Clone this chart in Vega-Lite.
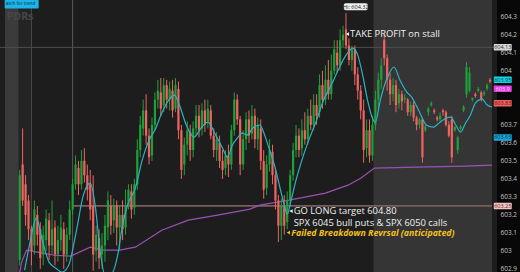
{
  "$schema": "https://vega.github.io/schema/vega-lite/v6.json",
  "width": 497,
  "height": 272,
  "autosize": {"type": "none"},
  "padding": {"left": 0, "top": 0, "right": 23, "bottom": 0},
  "background": "#080808",
  "config": {"view": {"fill": "#1d1d1d", "stroke": null}, "font": "Open Sans", "axis": {"labelOverlap": false, "labelBound": false, "labelFlush": false, "ticks": false, "domain": false, "grid": false}},
  "resolve": {"scale": {"color": "independent"}, "axis": {"y": "independent"}},
  "datasets": {
    "regions": [
      {"t1": -5, "t2": -0.33, "kind": "pre"},
      {"t1": -0.33, "t2": 4, "kind": "open"},
      {"t1": 120.33, "t2": 160.67, "kind": "post"}
    ],
    "vlines": [{"t": 4, "kind": "a"}, {"t": 18, "kind": "b"}],
    "lastline": [{"p": 604.13}],
    "level": [{"t1": 18, "t2": 160.67, "p": 603.25}],
    "candles": [
{"t":0,"o":602.95,"h":603.45,"l":602.92,"c":603.42},
{"t":1,"o":603.48,"h":603.68,"l":603.25,"c":603.28},
{"t":2,"o":603.37,"h":603.42,"l":603.14,"c":603.20},
{"t":3,"o":603.28,"h":603.31,"l":603.06,"c":603.12},
{"t":4,"o":603.12,"h":603.14,"l":602.92,"c":603.00},
{"t":5,"o":603.03,"h":603.28,"l":602.98,"c":603.23},
{"t":6,"o":603.20,"h":603.25,"l":603.03,"c":603.09},
{"t":7,"o":603.12,"h":603.16,"l":602.90,"c":602.96},
{"t":8,"o":602.98,"h":603.14,"l":602.92,"c":603.09},
{"t":9,"o":603.06,"h":603.23,"l":603.00,"c":603.18},
{"t":10,"o":603.17,"h":603.21,"l":602.95,"c":603.03},
{"t":11,"o":603.03,"h":603.28,"l":602.98,"c":603.12},
{"t":12,"o":603.13,"h":603.17,"l":602.92,"c":602.98},
{"t":13,"o":602.98,"h":603.14,"l":602.94,"c":603.06},
{"t":14,"o":603.06,"h":603.20,"l":603.00,"c":603.13},
{"t":15,"o":603.12,"h":603.16,"l":602.90,"c":602.98},
{"t":16,"o":602.98,"h":603.13,"l":602.94,"c":603.09},
{"t":17,"o":603.09,"h":603.28,"l":603.06,"c":603.23},
{"t":18,"o":603.23,"h":603.40,"l":603.20,"c":603.37},
{"t":19,"o":603.37,"h":603.53,"l":603.34,"c":603.48},
{"t":20,"o":603.46,"h":603.50,"l":603.31,"c":603.37},
{"t":21,"o":603.37,"h":603.56,"l":603.34,"c":603.50},
{"t":22,"o":603.50,"h":603.57,"l":603.38,"c":603.42},
{"t":23,"o":603.42,"h":603.48,"l":603.28,"c":603.34},
{"t":24,"o":603.37,"h":603.45,"l":603.17,"c":603.23},
{"t":25,"o":603.25,"h":603.42,"l":602.89,"c":602.98},
{"t":26,"o":603.00,"h":603.14,"l":602.94,"c":603.09},
{"t":27,"o":603.07,"h":603.12,"l":602.90,"c":602.96},
{"t":28,"o":602.98,"h":603.10,"l":602.90,"c":603.03},
{"t":29,"o":603.03,"h":603.20,"l":602.94,"c":603.14},
{"t":30,"o":603.13,"h":603.33,"l":603.06,"c":603.28},
{"t":31,"o":603.25,"h":603.31,"l":603.09,"c":603.14},
{"t":32,"o":603.17,"h":603.29,"l":603.10,"c":603.25},
{"t":33,"o":603.25,"h":603.28,"l":603.03,"c":603.13},
{"t":34,"o":603.13,"h":603.25,"l":603.00,"c":603.20},
{"t":35,"o":603.20,"h":603.28,"l":603.06,"c":603.12},
{"t":36,"o":603.13,"h":603.34,"l":603.09,"c":603.25},
{"t":37,"o":603.25,"h":603.37,"l":603.23,"c":603.34},
{"t":38,"o":603.33,"h":603.37,"l":603.18,"c":603.23},
{"t":39,"o":603.24,"h":603.40,"l":603.20,"c":603.37},
{"t":40,"o":603.37,"h":603.62,"l":603.34,"c":603.56},
{"t":41,"o":603.56,"h":603.75,"l":603.52,"c":603.70},
{"t":42,"o":603.68,"h":603.84,"l":603.64,"c":603.78},
{"t":43,"o":603.78,"h":603.87,"l":603.59,"c":603.64},
{"t":44,"o":603.64,"h":603.68,"l":603.48,"c":603.52},
{"t":45,"o":603.53,"h":603.74,"l":603.50,"c":603.70},
{"t":46,"o":603.70,"h":603.88,"l":603.67,"c":603.84},
{"t":47,"o":603.84,"h":603.95,"l":603.79,"c":603.89},
{"t":48,"o":603.88,"h":603.96,"l":603.75,"c":603.79},
{"t":49,"o":603.81,"h":603.96,"l":603.77,"c":603.92},
{"t":50,"o":603.92,"h":603.95,"l":603.79,"c":603.84},
{"t":51,"o":603.84,"h":603.94,"l":603.78,"c":603.90},
{"t":52,"o":603.89,"h":603.95,"l":603.74,"c":603.78},
{"t":53,"o":603.79,"h":603.96,"l":603.77,"c":603.92},
{"t":54,"o":603.90,"h":603.94,"l":603.62,"c":603.67},
{"t":55,"o":603.67,"h":603.70,"l":603.40,"c":603.45},
{"t":56,"o":603.48,"h":603.63,"l":603.42,"c":603.59},
{"t":57,"o":603.59,"h":603.72,"l":603.53,"c":603.67},
{"t":58,"o":603.66,"h":603.70,"l":603.50,"c":603.56},
{"t":59,"o":603.56,"h":603.72,"l":603.52,"c":603.68},
{"t":60,"o":603.68,"h":603.81,"l":603.64,"c":603.75},
{"t":61,"o":603.75,"h":603.81,"l":603.63,"c":603.67},
{"t":62,"o":603.68,"h":603.82,"l":603.64,"c":603.78},
{"t":63,"o":603.78,"h":603.84,"l":603.66,"c":603.70},
{"t":64,"o":603.72,"h":603.84,"l":603.68,"c":603.79},
{"t":65,"o":603.78,"h":603.81,"l":603.62,"c":603.64},
{"t":66,"o":603.64,"h":603.68,"l":603.52,"c":603.56},
{"t":67,"o":603.56,"h":603.66,"l":603.50,"c":603.62},
{"t":68,"o":603.60,"h":603.64,"l":603.46,"c":603.50},
{"t":69,"o":603.50,"h":603.56,"l":603.40,"c":603.45},
{"t":70,"o":603.46,"h":603.56,"l":603.42,"c":603.53},
{"t":71,"o":603.53,"h":603.59,"l":603.41,"c":603.48},
{"t":72,"o":603.48,"h":603.70,"l":603.45,"c":603.67},
{"t":73,"o":603.67,"h":603.88,"l":603.64,"c":603.84},
{"t":74,"o":603.84,"h":603.87,"l":603.70,"c":603.73},
{"t":75,"o":603.73,"h":603.75,"l":603.42,"c":603.48},
{"t":76,"o":603.48,"h":603.67,"l":603.45,"c":603.62},
{"t":77,"o":603.62,"h":603.77,"l":603.56,"c":603.73},
{"t":78,"o":603.73,"h":603.78,"l":603.60,"c":603.64},
{"t":79,"o":603.65,"h":603.81,"l":603.62,"c":603.75},
{"t":80,"o":603.75,"h":603.79,"l":603.57,"c":603.62},
{"t":81,"o":603.62,"h":603.74,"l":603.56,"c":603.70},
{"t":82,"o":603.68,"h":603.73,"l":603.45,"c":603.50},
{"t":83,"o":603.50,"h":603.56,"l":603.29,"c":603.34},
{"t":84,"o":603.35,"h":603.53,"l":603.31,"c":603.48},
{"t":85,"o":603.48,"h":603.62,"l":603.44,"c":603.56},
{"t":86,"o":603.55,"h":603.59,"l":603.37,"c":603.42},
{"t":87,"o":603.42,"h":603.46,"l":603.23,"c":603.28},
{"t":88,"o":603.28,"h":603.31,"l":603.05,"c":603.14},
{"t":89,"o":603.14,"h":603.29,"l":603.06,"c":603.25},
{"t":90,"o":603.25,"h":603.31,"l":603.09,"c":603.14},
{"t":91,"o":603.16,"h":603.33,"l":603.12,"c":603.28},
{"t":92,"o":603.28,"h":603.45,"l":603.25,"c":603.42},
{"t":93,"o":603.42,"h":603.60,"l":603.39,"c":603.56},
{"t":94,"o":603.56,"h":603.70,"l":603.52,"c":603.64},
{"t":95,"o":603.64,"h":603.68,"l":603.52,"c":603.56},
{"t":96,"o":603.57,"h":603.73,"l":603.53,"c":603.67},
{"t":97,"o":603.67,"h":603.77,"l":603.59,"c":603.62},
{"t":98,"o":603.62,"h":603.79,"l":603.59,"c":603.75},
{"t":99,"o":603.75,"h":603.84,"l":603.67,"c":603.70},
{"t":100,"o":603.70,"h":603.87,"l":603.67,"c":603.81},
{"t":101,"o":603.81,"h":603.87,"l":603.70,"c":603.75},
{"t":102,"o":603.77,"h":603.98,"l":603.74,"c":603.92},
{"t":103,"o":603.92,"h":604.00,"l":603.79,"c":603.84},
{"t":104,"o":603.84,"h":604.03,"l":603.81,"c":603.95},
{"t":105,"o":603.95,"h":604.06,"l":603.84,"c":603.87},
{"t":106,"o":603.87,"h":604.09,"l":603.84,"c":604.00},
{"t":107,"o":604.00,"h":604.17,"l":603.98,"c":604.12},
{"t":108,"o":604.10,"h":604.17,"l":603.99,"c":604.03},
{"t":109,"o":604.03,"h":604.23,"l":604.00,"c":604.17},
{"t":110,"o":604.17,"h":604.25,"l":604.13,"c":604.20},
{"t":111,"o":604.23,"h":604.32,"l":604.12,"c":604.14},
{"t":112,"o":604.14,"h":604.18,"l":604.03,"c":604.06},
{"t":113,"o":604.06,"h":604.14,"l":604.00,"c":604.12},
{"t":114,"o":604.12,"h":604.14,"l":603.92,"c":603.98},
{"t":115,"o":603.98,"h":604.02,"l":603.84,"c":603.89},
{"t":116,"o":603.89,"h":603.92,"l":603.73,"c":603.78},
{"t":117,"o":603.78,"h":603.84,"l":603.49,"c":603.56},
{"t":118,"o":603.57,"h":603.73,"l":603.52,"c":603.67},
{"t":119,"o":603.67,"h":603.73,"l":603.49,"c":603.53},
{"t":120,"o":603.53,"h":603.75,"l":603.50,"c":603.70},
{"t":121,"o":603.70,"h":603.89,"l":603.67,"c":603.84},
{"t":122,"o":603.84,"h":603.99,"l":603.79,"c":603.95},
{"t":123,"o":603.95,"h":604.07,"l":603.90,"c":604.03},
{"t":124,"o":604.17,"h":604.20,"l":604.03,"c":604.07},
{"t":125,"o":604.07,"h":604.09,"l":603.89,"c":603.95},
{"t":126,"o":603.95,"h":603.99,"l":603.81,"c":603.87},
{"t":127,"o":603.87,"h":603.96,"l":603.83,"c":603.92},
{"t":128,"o":603.92,"h":603.95,"l":603.77,"c":603.81},
{"t":129,"o":603.82,"h":603.90,"l":603.79,"c":603.87},
{"t":130,"o":603.87,"h":603.89,"l":603.78,"c":603.83},
{"t":131,"o":603.84,"h":603.87,"l":603.82,"c":603.85},
{"t":132,"o":603.84,"h":603.85,"l":603.75,"c":603.77},
{"t":133,"o":603.77,"h":603.83,"l":603.75,"c":603.81},
{"t":134,"o":603.81,"h":603.83,"l":603.72,"c":603.74},
{"t":135,"o":603.74,"h":603.75,"l":603.67,"c":603.70},
{"t":136,"o":603.70,"h":603.74,"l":603.68,"c":603.73},
{"t":137,"o":603.73,"h":603.74,"l":603.49,"c":603.52},
{"t":138,"o":603.67,"h":603.70,"l":603.66,"c":603.69},
{"t":139,"o":603.77,"h":603.80,"l":603.75,"c":603.79},
{"t":140,"o":603.81,"h":603.83,"l":603.80,"c":603.82},
{"t":141,"o":603.78,"h":603.79,"l":603.76,"c":603.77},
{"t":142,"o":603.74,"h":603.75,"l":603.72,"c":603.73},
{"t":143,"o":603.73,"h":603.77,"l":603.72,"c":603.75},
{"t":144,"o":603.78,"h":603.79,"l":603.75,"c":603.77},
{"t":145,"o":603.77,"h":603.78,"l":603.69,"c":603.70},
{"t":146,"o":603.70,"h":603.72,"l":603.63,"c":603.64},
{"t":147,"o":603.73,"h":603.75,"l":603.49,"c":603.52},
{"t":148,"o":603.67,"h":603.69,"l":603.66,"c":603.69},
{"t":149,"o":603.56,"h":603.64,"l":603.54,"c":603.63},
{"t":150,"o":603.68,"h":603.70,"l":603.67,"c":603.69},
{"t":151,"o":603.78,"h":603.81,"l":603.77,"c":603.80},
{"t":152,"o":603.87,"h":604.05,"l":603.85,"c":604.02},
{"t":153,"o":603.89,"h":604.02,"l":603.88,"c":603.99},
{"t":154,"o":603.84,"h":603.85,"l":603.83,"c":603.85},
{"t":155,"o":603.87,"h":603.88,"l":603.85,"c":603.86},
{"t":156,"o":603.89,"h":603.91,"l":603.88,"c":603.90},
{"t":157,"o":603.88,"h":603.89,"l":603.83,"c":603.84},
{"t":158,"o":603.87,"h":603.89,"l":603.86,"c":603.88},
{"t":159,"o":603.90,"h":603.93,"l":603.89,"c":603.92},
{"t":160,"o":603.95,"h":603.96,"l":603.93,"c":603.94}
    ],
    "cyan": [
{"t":1.67,"p":602.893},{"t":3.33,"p":603.032},{"t":5.67,"p":603.182},{"t":7.67,"p":603.06},{"t":10,"p":602.938},
{"t":12.33,"p":602.904},{"t":14.33,"p":602.882},{"t":16.67,"p":602.921},{"t":19,"p":603.087},{"t":21.67,"p":603.31},
{"t":24,"p":603.376},{"t":25.67,"p":603.254},{"t":27.33,"p":603.004},{"t":29.33,"p":602.849},{"t":31.67,"p":602.882},
{"t":33.33,"p":602.976},{"t":35,"p":603.143},{"t":36.67,"p":603.254},{"t":39.33,"p":603.349},{"t":41.67,"p":603.504},
{"t":44,"p":603.615},{"t":46,"p":603.671},{"t":48.33,"p":603.765},{"t":50.67,"p":603.837},{"t":52.67,"p":603.865},
{"t":54.33,"p":603.81},{"t":56.67,"p":603.699},{"t":59.33,"p":603.632},{"t":61.67,"p":603.682},{"t":64,"p":603.715},
{"t":66.67,"p":603.643},{"t":69,"p":603.571},{"t":70.67,"p":603.521},{"t":72.33,"p":603.587},{"t":74,"p":603.626},
{"t":75.67,"p":603.654},{"t":77.33,"p":603.643},{"t":79.33,"p":603.682},{"t":81.67,"p":603.699},{"t":83.33,"p":603.643},
{"t":85,"p":603.56},{"t":86.67,"p":603.476},{"t":88.33,"p":603.365},{"t":90,"p":603.254},{"t":91,"p":603.204},
{"t":92.33,"p":603.282},{"t":94,"p":603.393},{"t":96,"p":603.504},{"t":98.33,"p":603.615},{"t":101,"p":603.726},
{"t":103.33,"p":603.837},{"t":106,"p":603.921},{"t":108.33,"p":604.004},{"t":111,"p":604.087},{"t":113.33,"p":604.126},
{"t":115,"p":604.087},{"t":116.67,"p":603.976},{"t":118.33,"p":603.837},{"t":120,"p":603.737},{"t":121,"p":603.715},
{"t":122.67,"p":603.837},{"t":125,"p":603.96},{"t":127.33,"p":604.021},{"t":129.33,"p":603.949},{"t":131.67,"p":603.882},
{"t":133.33,"p":603.854},{"t":135.67,"p":603.782},{"t":138.33,"p":603.699},{"t":140.67,"p":603.687},{"t":142.67,"p":603.71},
{"t":145,"p":603.737},{"t":146.67,"p":603.743},{"t":148.33,"p":603.699},{"t":150,"p":603.66},{"t":151.67,"p":603.71},
{"t":153.33,"p":603.754},{"t":155,"p":603.821},{"t":157.33,"p":603.843},{"t":159,"p":603.81},{"t":160.67,"p":603.799}
    ],
    "purple": [
{"t":0,"p":602.882},{"t":0.67,"p":602.938},{"t":2.33,"p":603.004},{"t":6,"p":602.993},{"t":11.67,"p":602.976},
{"t":17.33,"p":602.971},{"t":24,"p":603.021},{"t":28.33,"p":603.004},{"t":34,"p":603.004},{"t":39.33,"p":603.021},
{"t":48.33,"p":603.115},{"t":57.33,"p":603.171},{"t":67.33,"p":603.199},{"t":78.33,"p":603.232},{"t":81.67,"p":603.254},
{"t":91.67,"p":603.282},{"t":104,"p":603.321},{"t":111.67,"p":603.365},{"t":116,"p":603.404},{"t":120.67,"p":603.46},
{"t":135,"p":603.465},{"t":151.67,"p":603.471},{"t":160.67,"p":603.476}
    ],
    "notes": [
      {"t": 112.4, "p": 604.204, "label": "TAKE PROFIT on stall"},
      {"t": 93.2, "p": 603.221, "label": "GO LONG target 604.80"},
      {"t": 93.2, "p": 603.155, "label": "SPX 6045 bull puts & SPX 6050 calls"}
    ],
    "failed": [{"t": 92.4, "p": 603.102, "label": "Failed Breakdown Revrsal (anticipated)"}],
    "tris": [
      {"t": 111.5, "p": 604.204, "kind": "white"},
      {"t": 92.3, "p": 603.221, "kind": "white"},
      {"t": 91.4, "p": 603.102, "kind": "yellow"}
    ],
    "boxes": [
      {"t": 164.33, "p": 604.13, "label": "604.13", "kind": "last"},
      {"t": 164.33, "p": 603.95, "label": "603.95", "kind": "c1"},
      {"t": 164.33, "p": 603.9, "label": "603.9", "kind": "m"},
      {"t": 164.33, "p": 603.82, "label": "603.83", "kind": "r"},
      {"t": 164.33, "p": 603.63, "label": "603.63", "kind": "c2"},
      {"t": 164.33, "p": 603.25, "label": "603.25", "kind": "lvl"}
    ],
    "hibox": [{"t": 114.33, "p": 604.355, "label": "Hi: 604.32"}],
    "watch": [{"t": 0.67, "p": 604.37, "label": "atch for trend", "tl": -4.75}],
    "wm": [{"t": -4.4, "p": 604.296, "label": "PDRs"}]
  },
  "layer": [
    {
      "data": {"name": "regions"},
      "mark": {"type": "rect"},
      "encoding": {
        "x": {"field": "t1", "type": "quantitative", "scale": {"domain": [-5, 160.667], "nice": false, "zero": false}, "axis": null},
        "x2": {"field": "t2"},
        "color": {"field": "kind", "type": "nominal", "scale": {"domain": ["pre", "open", "post"], "range": ["#3b3b3b", "#242424", "#353535"]}, "legend": null}
      }
    },
    {
      "data": {"name": "vlines"},
      "mark": {"type": "rule", "strokeWidth": 1},
      "encoding": {
        "x": {"field": "t", "type": "quantitative", "scale": {"domain": [-5, 160.667], "nice": false, "zero": false}, "axis": null},
        "color": {"field": "kind", "type": "nominal", "scale": {"domain": ["a", "b"], "range": ["#484848", "#5a5a5a"]}, "legend": null}
      }
    },
    {
      "data": {"name": "lastline"},
      "mark": {"type": "rule", "color": "#4e4e4e", "strokeWidth": 1},
      "encoding": {
        "y": {"field": "p", "type": "quantitative", "scale": {"domain": [602.883, 604.393], "nice": false, "zero": false}, "axis": null}
      }
    },
    {
      "data": {"name": "level"},
      "mark": {"type": "rule", "color": "#7a5e5e", "strokeWidth": 1.6},
      "encoding": {
        "x": {"field": "t1", "type": "quantitative", "scale": {"domain": [-5, 160.667], "nice": false, "zero": false}, "axis": null},
        "x2": {"field": "t2"},
        "y": {"field": "p", "type": "quantitative", "scale": {"domain": [602.883, 604.393], "nice": false, "zero": false}, "axis": null}
      }
    },
    {
      "data": {"name": "purple"},
      "mark": {"type": "line", "color": "#9c50b4", "strokeWidth": 1.2, "clip": true},
      "encoding": {
        "x": {"field": "t", "type": "quantitative", "scale": {"domain": [-5, 160.667], "nice": false, "zero": false}, "axis": null},
        "y": {"field": "p", "type": "quantitative", "scale": {"domain": [602.883, 604.393], "nice": false, "zero": false}, "axis": null}
      }
    },
    {
      "data": {"name": "candles"},
      "mark": {"type": "rule", "strokeWidth": 1, "clip": true},
      "encoding": {
        "x": {"field": "t", "type": "quantitative", "scale": {"domain": [-5, 160.667], "nice": false, "zero": false}, "axis": null},
        "y": {"field": "l", "type": "quantitative", "scale": {"domain": [602.883, 604.393], "nice": false, "zero": false}, "title": null,
          "axis": {"orient": "right", "title": null, "values": [602.9, 603, 603.1, 603.2, 603.3, 603.4, 603.5, 603.6, 603.7, 604, 604.1, 604.2, 604.3], "format": ".1~f", "labelFontSize": 6.5, "labelColor": "#c4c4c4", "labelFont": "Open Sans", "ticks": false, "domain": false, "grid": false, "labelPadding": 3, "labelOverlap": false, "labelBound": false, "labelFlush": false}},
        "y2": {"field": "h"},
        "color": {"condition": {"test": "datum.c >= datum.o", "value": "#1fa03a"}, "value": "#ee6461"}
      }
    },
    {
      "data": {"name": "candles"},
      "mark": {"type": "bar", "size": 2.2, "clip": true},
      "encoding": {
        "x": {"field": "t", "type": "quantitative", "scale": {"domain": [-5, 160.667], "nice": false, "zero": false}, "axis": null},
        "y": {"field": "o", "type": "quantitative", "scale": {"domain": [602.883, 604.393], "nice": false, "zero": false}, "axis": null},
        "y2": {"field": "c"},
        "color": {"condition": {"test": "datum.c >= datum.o", "value": "#1fa03a"}, "value": "#ee6461"}
      }
    },
    {
      "data": {"name": "cyan"},
      "mark": {"type": "line", "color": "#2bb4c4", "strokeWidth": 1.2, "clip": true, "interpolate": "monotone"},
      "encoding": {
        "x": {"field": "t", "type": "quantitative", "scale": {"domain": [-5, 160.667], "nice": false, "zero": false}, "axis": null},
        "y": {"field": "p", "type": "quantitative", "scale": {"domain": [602.883, 604.393], "nice": false, "zero": false}, "axis": null}
      }
    },
    {
      "data": {"name": "tris"},
      "mark": {"type": "point", "shape": "triangle-left", "filled": true, "size": 14, "opacity": 1},
      "encoding": {
        "x": {"field": "t", "type": "quantitative", "scale": {"domain": [-5, 160.667], "nice": false, "zero": false}, "axis": null},
        "y": {"field": "p", "type": "quantitative", "scale": {"domain": [602.883, 604.393], "nice": false, "zero": false}, "axis": null},
        "color": {"field": "kind", "type": "nominal", "scale": {"domain": ["white", "yellow"], "range": ["#f2f2f2", "#f3c21a"]}, "legend": null}
      }
    },
    {
      "data": {"name": "notes"},
      "mark": {"type": "text", "align": "left", "baseline": "middle", "fontSize": 9.4, "font": "Open Sans", "color": "#f0f0f0"},
      "encoding": {
        "x": {"field": "t", "type": "quantitative", "scale": {"domain": [-5, 160.667], "nice": false, "zero": false}, "axis": null},
        "y": {"field": "p", "type": "quantitative", "scale": {"domain": [602.883, 604.393], "nice": false, "zero": false}, "axis": null},
        "text": {"field": "label"}
      }
    },
    {
      "data": {"name": "failed"},
      "mark": {"type": "text", "align": "left", "baseline": "middle", "fontSize": 8.8, "font": "Open Sans", "fontWeight": "bold", "fontStyle": "italic", "color": "#f3c21a"},
      "encoding": {
        "x": {"field": "t", "type": "quantitative", "scale": {"domain": [-5, 160.667], "nice": false, "zero": false}, "axis": null},
        "y": {"field": "p", "type": "quantitative", "scale": {"domain": [602.883, 604.393], "nice": false, "zero": false}, "axis": null},
        "text": {"field": "label"}
      }
    },
    {
      "data": {"name": "hibox"},
      "mark": {"type": "tick", "orient": "horizontal", "size": 24, "thickness": 7, "color": "#eeeeee", "opacity": 1, "cornerRadius": 2},
      "encoding": {
        "x": {"field": "t", "type": "quantitative", "scale": {"domain": [-5, 160.667], "nice": false, "zero": false}, "axis": null},
        "y": {"field": "p", "type": "quantitative", "scale": {"domain": [602.883, 604.393], "nice": false, "zero": false}, "axis": null}
      }
    },
    {
      "data": {"name": "hibox"},
      "mark": {"type": "text", "align": "center", "baseline": "middle", "fontSize": 5.5, "font": "Open Sans", "color": "#222222"},
      "encoding": {
        "x": {"field": "t", "type": "quantitative", "scale": {"domain": [-5, 160.667], "nice": false, "zero": false}, "axis": null},
        "y": {"field": "p", "type": "quantitative", "scale": {"domain": [602.883, 604.393], "nice": false, "zero": false}, "axis": null},
        "text": {"field": "label"}
      }
    },
    {
      "data": {"name": "watch"},
      "mark": {"type": "tick", "orient": "horizontal", "size": 34, "thickness": 8.5, "color": "#1db4e8", "opacity": 1, "cornerRadius": 1},
      "encoding": {
        "x": {"field": "t", "type": "quantitative", "scale": {"domain": [-5, 160.667], "nice": false, "zero": false}, "axis": null},
        "y": {"field": "p", "type": "quantitative", "scale": {"domain": [602.883, 604.393], "nice": false, "zero": false}, "axis": null}
      }
    },
    {
      "data": {"name": "watch"},
      "mark": {"type": "text", "align": "left", "baseline": "middle", "fontSize": 4.8, "font": "DejaVu Sans Condensed", "color": "#0b2a3a"},
      "encoding": {
        "x": {"field": "tl", "type": "quantitative", "scale": {"domain": [-5, 160.667], "nice": false, "zero": false}, "axis": null},
        "y": {"field": "p", "type": "quantitative", "scale": {"domain": [602.883, 604.393], "nice": false, "zero": false}, "axis": null},
        "text": {"field": "label"}
      }
    },
    {
      "data": {"name": "wm"},
      "mark": {"type": "text", "align": "left", "baseline": "middle", "fontSize": 10.5, "font": "Open Sans", "fontWeight": "bold", "color": "#474747"},
      "encoding": {
        "x": {"field": "t", "type": "quantitative", "scale": {"domain": [-5, 160.667], "nice": false, "zero": false}, "axis": null},
        "y": {"field": "p", "type": "quantitative", "scale": {"domain": [602.883, 604.393], "nice": false, "zero": false}, "axis": null},
        "text": {"field": "label"}
      }
    },
    {
      "data": {"name": "boxes"},
      "mark": {"type": "tick", "orient": "horizontal", "size": 18, "thickness": 6.5, "opacity": 1, "cornerRadius": 1},
      "encoding": {
        "x": {"field": "t", "type": "quantitative", "scale": {"domain": [-5, 160.667], "nice": false, "zero": false}, "axis": null},
        "y": {"field": "p", "type": "quantitative", "scale": {"domain": [602.883, 604.393], "nice": false, "zero": false}, "axis": null},
        "color": {"field": "kind", "type": "nominal", "scale": {"domain": ["last", "c1", "m", "r", "c2", "lvl"], "range": ["#d6d6d6", "#14d6e6", "#e040e0", "#f0605c", "#1aa8dc", "#f2c4c4"]}, "legend": null}
      }
    },
    {
      "data": {"name": "boxes"},
      "mark": {"type": "text", "align": "center", "baseline": "middle", "fontSize": 5.5, "font": "Open Sans"},
      "encoding": {
        "x": {"field": "t", "type": "quantitative", "scale": {"domain": [-5, 160.667], "nice": false, "zero": false}, "axis": null},
        "y": {"field": "p", "type": "quantitative", "scale": {"domain": [602.883, 604.393], "nice": false, "zero": false}, "axis": null},
        "text": {"field": "label"},
        "color": {"field": "kind", "type": "nominal", "scale": {"domain": ["last", "c1", "m", "r", "c2", "lvl"], "range": ["#333333", "#07343c", "#fbd6fb", "#5a1010", "#06293a", "#6a2222"]}, "legend": null}
      }
    }
  ]
}
